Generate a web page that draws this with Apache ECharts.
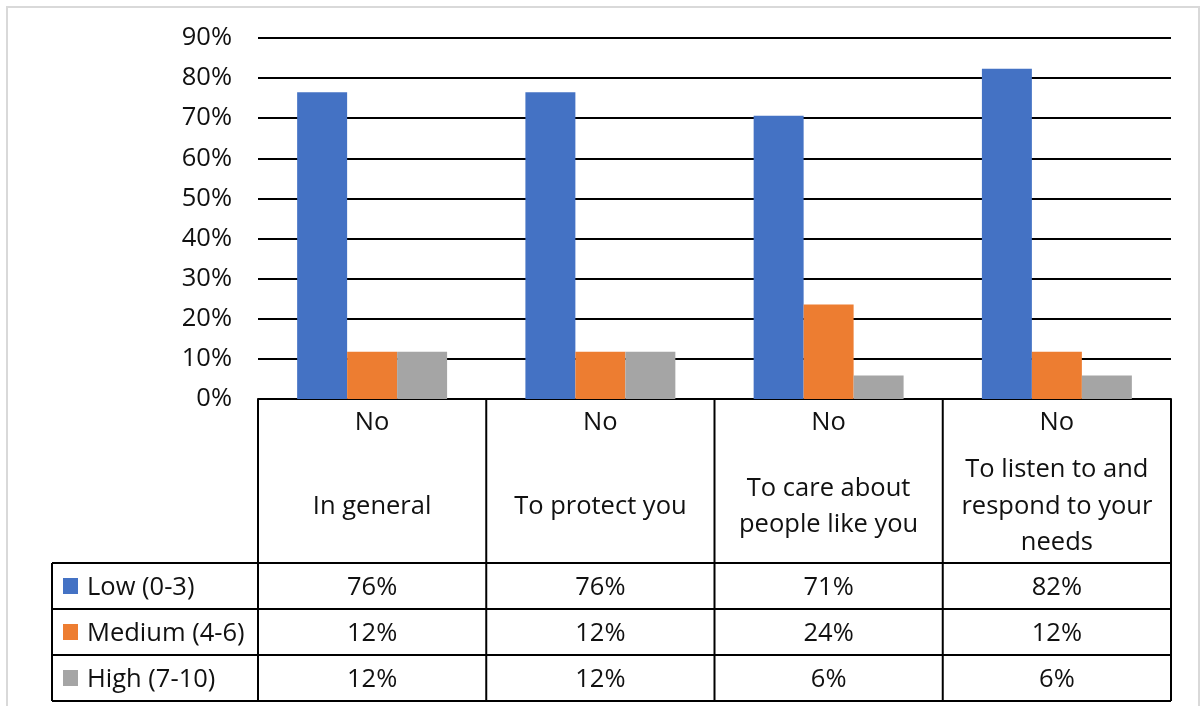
<!DOCTYPE html>
<html>
<head>
<meta charset="utf-8">
<script src="https://cdn.jsdelivr.net/npm/echarts@6/dist/echarts.min.js"></script>
<style>
html,body{margin:0;padding:0;background:#fff;}
#chart{width:1200px;height:706px;}
</style>
</head>
<body>
<div id="chart"></div>
<script>
// ---- data ----
const categories = ['In general', 'To protect you', 'To care about people like you', 'To listen to and respond to your needs'];
const headerTop = ['No', 'No', 'No', 'No'];
const headerLines = [['In general'], ['To protect you'], ['To care about', 'people like you'], ['To listen to and', 'respond to your', 'needs']];
const seriesNames = ['Low (0-3)', 'Medium (4-6)', 'High (7-10)'];
const lowValues = [76.47, 76.47, 70.59, 82.35];
const mediumValues = [11.76, 11.76, 23.53, 11.76];
const highValues = [11.76, 11.76, 5.88, 5.88];
const yTicks = [0, 10, 20, 30, 40, 50, 60, 70, 80, 90];

// ---- style ----
const colors = ['#4472C4', '#ED7D31', '#A5A5A5'];
const FONT = '"Open Sans", Lato, sans-serif';
const FS = 25.5;
const TXT = '#111';
const LINE = '#000';

const chart = echarts.init(document.getElementById('chart'), null, {renderer: 'canvas'});
const gridLeft = 258, gridRight = 29, gridTop = 38, gridBottom = 307;

const allValues = [lowValues, mediumValues, highValues];

chart.setOption({
  animation: false,
  backgroundColor: '#fff',
  color: colors,
  grid: {left: gridLeft, right: gridRight, top: gridTop, bottom: gridBottom},
  xAxis: {
    type: 'category',
    data: categories,
    axisLine: {show: true, lineStyle: {color: LINE, width: 2}},
    axisTick: {show: false},
    axisLabel: {show: false},
    splitLine: {show: false}
  },
  yAxis: {
    type: 'value',
    min: yTicks[0],
    max: yTicks[yTicks.length - 1],
    interval: 10,
    axisLine: {show: false},
    axisTick: {show: false},
    axisLabel: {formatter: '{value}%', fontFamily: FONT, fontSize: FS, color: TXT, margin: 26, padding: [3, 0, 0, 0]},
    splitLine: {show: true, lineStyle: {color: LINE, width: 2}}
  },
  series: seriesNames.map((name, i) => ({
    name: name,
    type: 'bar',
    data: allValues[i],
    barGap: '0%',
    barCategoryGap: '34.3%',
    itemStyle: {color: colors[i]}
  }))
});

function buildTable() {
  const n = categories.length;
  const x0 = chart.convertToPixel({xAxisIndex: 0}, 0);
  const x1 = chart.convertToPixel({xAxisIndex: 0}, 1);
  const band = x1 - x0;
  const left = x0 - band / 2;
  const right = left + band * n;
  const top = chart.convertToPixel({yAxisIndex: 0}, 0);
  const headerH = 164, rowH = 46;
  const legendLeft = 52;
  const dy = 1.5;
  const rowTops = [top + headerH, top + headerH + rowH, top + headerH + 2 * rowH, top + headerH + 3 * rowH];
  const els = [];
  const ln = (xa, ya, xb, yb) => els.push({type: 'line', silent: true, z: 100,
    shape: {x1: xa, y1: ya, x2: xb, y2: yb}, style: {stroke: LINE, lineWidth: 2}});
  // frame
  els.push({type: 'rect', silent: true, z: 0, shape: {x: 7, y: 7, width: 1192, height: 730},
    style: {fill: null, stroke: '#d9d9d9', lineWidth: 2}});
  // vertical lines
  for (let i = 0; i <= n; i++) {
    const x = left + band * i;
    ln(x, top, x, rowTops[3]);
  }
  ln(legendLeft, rowTops[0], legendLeft, rowTops[3]);
  // horizontal lines
  rowTops.forEach(y => ln(legendLeft, y, right, y));
  const txt = (t, x, y, align) => els.push({type: 'text', silent: true, z: 101, x: x, y: y + dy,
    style: {text: t, fontFamily: FONT, fontSize: FS, fill: TXT, align: align || 'center', verticalAlign: 'middle'}});
  // header
  for (let i = 0; i < n; i++) {
    const cx = left + band * (i + 0.5);
    txt(headerTop[i], cx, top + 22);
    const lines = headerLines[i];
    const lh = 36.5;
    const mid = top + 106;
    lines.forEach((l, k) => txt(l, cx, mid + (k - (lines.length - 1) / 2) * lh));
  }
  // rows
  seriesNames.forEach((name, r) => {
    const cy = rowTops[r] + rowH / 2;
    els.push({type: 'rect', silent: true, z: 101, shape: {x: 63, y: cy - 8, width: 15, height: 16},
      style: {fill: colors[r]}});
    txt(name, 87, cy, 'left');
    for (let i = 0; i < n; i++) {
      txt(Math.round(allValues[r][i]) + '%', left + band * (i + 0.5), cy);
    }
  });
  chart.setOption({graphic: {elements: els}});
}
buildTable();
</script>
</body>
</html>
